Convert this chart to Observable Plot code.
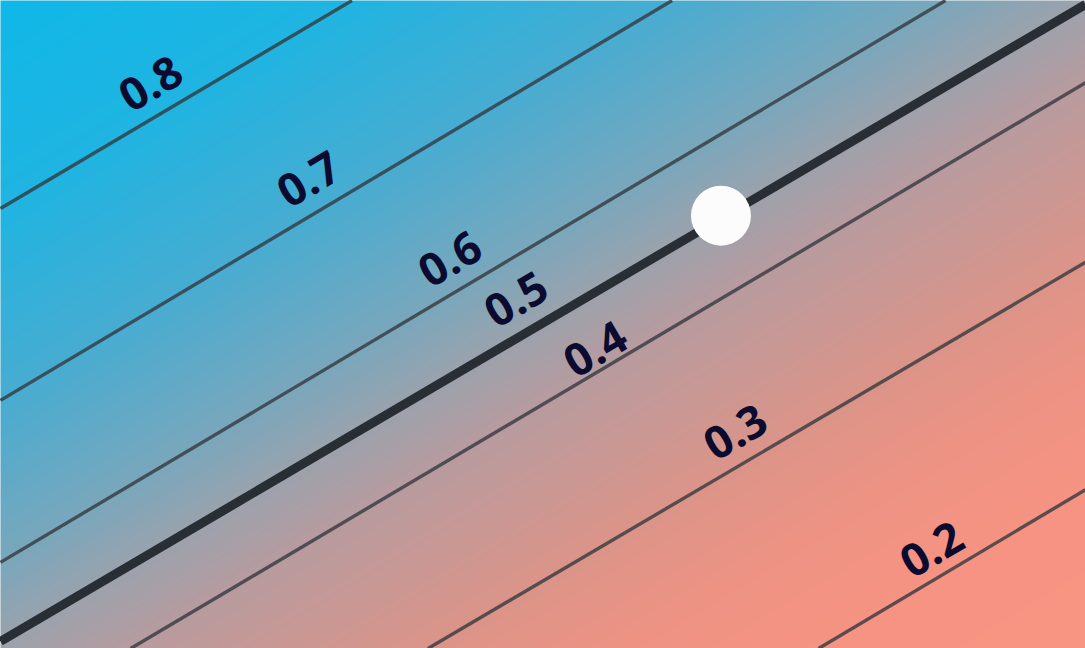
<!DOCTYPE html>
<html>
<head>
<meta charset="utf-8">
<script src="https://cdn.jsdelivr.net/npm/d3@7"></script>
<script src="https://cdn.jsdelivr.net/npm/@observablehq/plot@0.6"></script>
<style>
  html, body { margin: 0; padding: 0; background: #ffffff; }
  #chart svg { display: block; }
</style>
</head>
<body>
<div id="chart"></div>
<script>
// Contour levels and their end points (unit square, y up)
const levels = [0.2, 0.3, 0.4, 0.5, 0.6, 0.7, 0.8];
const lineX1 = [0.754, 0.394, 0.120, 0.000, 0.000, 0.000, 0.000];
const lineY1 = [0.000, 0.000, 0.000, 0.011, 0.133, 0.383, 0.679];
const lineX2 = [1.000, 1.000, 1.000, 1.000, 0.871, 0.619, 0.324];
const lineY2 = [0.245, 0.596, 0.873, 0.994, 1.000, 1.000, 1.000];

// Contour labels
const labelText = ["0.2", "0.3", "0.4", "0.5", "0.6", "0.7", "0.8"];
const labelX = [0.859, 0.678, 0.549, 0.476, 0.415, 0.285, 0.139];
const labelY = [0.151, 0.332, 0.460, 0.537, 0.599, 0.722, 0.870];

// Background colour stops by value
const colorValues = [0.13, 0.2, 0.25, 0.3, 0.4, 0.5, 0.6, 0.7, 0.8, 0.91];
const colorRange = ["#f89482", "#f69382", "#ee9384", "#dc9488", "#b89b9f", "#9ca2ac", "#7aa7bc", "#48acd1", "#20b4e1", "#0fb8e8"];

// Highlighted point
const pointX = [0.664];
const pointY = [0.668];

const contours = levels.map((level, i) => ({
  level, x1: lineX1[i], y1: lineY1[i], x2: lineX2[i], y2: lineY2[i]
}));
const labels = labelText.map((text, i) => ({text, x: labelX[i], y: labelY[i]}));
const points = pointX.map((x, i) => ({x, y: pointY[i]}));

// value field interpolated between the contour lines (offset = y - x)
const offsets = contours.map(d => ((d.y1 - d.x1) + (d.y2 - d.x2)) / 2);
const field = d3.scaleLinear().domain(offsets).range(levels);

const chart = Plot.plot({
  width: 1085,
  height: 648,
  margin: 0,
  x: {domain: [0, 1], axis: null},
  y: {domain: [0, 1], axis: null},
  color: {type: "linear", domain: colorValues, range: colorRange, clamp: true, interpolate: "rgb"},
  marks: [
    Plot.raster({fill: (x, y) => field(y - x), x1: 0, y1: 0, x2: 1, y2: 1, pixelSize: 1}),
    Plot.link(contours.filter(d => d.level !== 0.5), {
      x1: "x1", y1: "y1", x2: "x2", y2: "y2",
      stroke: "#343a40", strokeOpacity: 0.8, strokeWidth: 3.4
    }),
    Plot.link(contours.filter(d => d.level === 0.5), {
      x1: "x1", y1: "y1", x2: "x2", y2: "y2",
      stroke: "#292e35", strokeWidth: 9
    }),
    Plot.text(labels, {
      x: "x", y: "y", text: "text",
      rotate: -30.5,
      fontSize: 45, fontWeight: 700, fontFamily: "Open Sans",
      fill: "#0b0b30", textAnchor: "middle", lineAnchor: "middle"
    }),
    Plot.dot(points, {x: "x", y: "y", r: 30, fill: "#fcfcfc", stroke: "none"})
  ]
});
document.getElementById("chart").appendChild(chart);
</script>
</body>
</html>
